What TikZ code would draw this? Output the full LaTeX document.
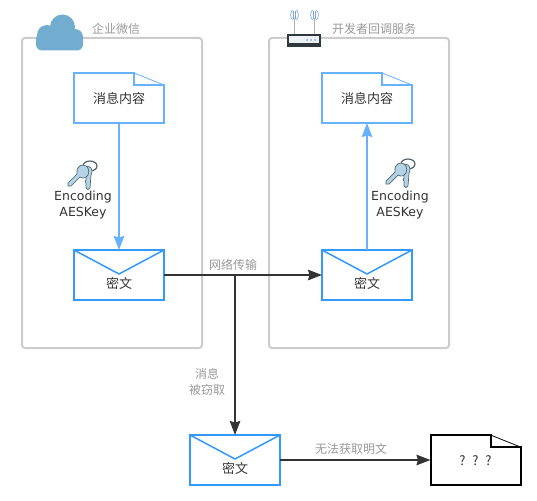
\documentclass[tikz,border=0pt]{standalone}
\usepackage{fontspec}
\setmainfont{Noto Sans CJK SC}
\newfontfamily\latinfont{DejaVu Sans}
\usepackage{xcolor}
\usepackage{tikz}
\usetikzlibrary{arrows.meta, calc}

\definecolor{groupgray}{HTML}{CCCCCC}
\definecolor{docblue}{HTML}{66B2FF}
\definecolor{mailblue}{HTML}{3399FF}
\definecolor{wiredark}{HTML}{333333}
\definecolor{notegray}{HTML}{999999}
\definecolor{cloudblue}{HTML}{72ACCE}
\definecolor{keyblue}{HTML}{B5D3E6}
\definecolor{keyedge}{HTML}{4F6570}
\definecolor{routerdark}{HTML}{2E383D}
\definecolor{routerlight}{HTML}{EEF1F6}
\definecolor{signalblue}{HTML}{7FA6E0}

\tikzset{
	groupbox/.style={draw=groupgray, line width=2pt, rounded corners=3pt, minimum width=180pt, minimum height=310pt, outer sep=0pt},
	docbox/.style={fill=white, minimum width=90pt, minimum height=50pt, outer sep=0pt},
	mailbox/.style={draw=mailblue, fill=white, line width=2pt, minimum width=90pt, minimum height=50pt, outer sep=0pt},
	bodytext/.style={text=wiredark, font=\fontsize{13}{15}\selectfont, inner sep=0pt},
	notetext/.style={text=notegray, font=\fontsize{12}{16}\selectfont, inner sep=0pt, align=center},
	keytext/.style={text=wiredark, font=\latinfont\fontsize{12.5}{16}\selectfont, inner sep=0pt, align=center},
	bluewire/.style={draw=docblue, line width=1.8pt, -{Stealth[length=14pt,width=10.5pt,inset=1.5pt]}},
	darkwire/.style={draw=wiredark, line width=1.8pt, -{Stealth[length=14pt,width=10.5pt,inset=1.5pt]}},
	keyring/.pic={
		\draw[draw=keyedge, line width=1.2pt] (7,-8) ellipse (7 and 5);
		\draw[draw=keyedge, fill=keyblue, line width=.7pt]
			(1,-7) .. controls (7,-10) and (11,-5) .. (8,1) -- (7,14) -- (5,15.5) -- (3,14) -- (3,9) -- (2,8) -- (3,6) -- (3,1) -- cycle;
		\draw[draw=keyedge, fill=keyblue, line width=.7pt]
			(0,-9) .. controls (5,-9) and (7,-3) .. (5,1) .. controls (3,4) and (0,5) .. (-3,3) -- (-12,12) -- (-15,12) -- (-15,9) -- (-6,0) .. controls (-7,-5) and (-4,-9) .. (0,-9);
	},
}

\begin{document}
\begin{tikzpicture}[x=1pt, y=-1pt]
	\useasboundingbox (0,0) rectangle (537,500);

	\node[groupbox] (wecom) at (112,193) {};
	\node[groupbox] (devserver) at (359,193) {};

	\node[notetext] (wecomtitle) at (116,28.5) {企业微信};
	\node[notetext] (devtitle) at (374,28.5) {开发者回调服务};

	\foreach \name/\x/\y/\colr/\txt in {
		plainleft/119/98/docblue/消息内容,
		plainright/367/98/docblue/消息内容,
		unknown/475.5/460/black/{? \ ? \ ?}
	}{
		\node[docbox] (\name) at (\x,\y) {};
		\draw[draw=\colr, line width=2pt] ($(\name.north east)+(-30,0)$) -- (\name.north west) -- (\name.south west) -- (\name.south east) -- ($(\name.north east)+(0,12)$) -- ($(\name.north east)+(-30,12)$) -- cycle;
		\fill[white] ($(\name.north east)+(-29,-1)$) -- ($(\name.north east)+(1,-1)$) -- ($(\name.north east)+(1,11)$) -- cycle;
		\draw[draw=\colr, line width=.8pt] ($(\name.north east)+(-30,0)$) -- ($(\name.north east)+(0,12)$);
		\node[bodytext] (\name text) at ($(\name)+(0,1)$) {\txt};
	}

	\foreach \name/\x/\y in {
		mailleft/119/275,
		mailright/367/275,
		mailstolen/235/460
	}{
		\node[mailbox] (\name) at (\x,\y) {};
		\draw[draw=mailblue, line width=1.5pt] (\name.north west) -- ($(\name.center)+(0,-1)$) -- (\name.north east);
		\node[bodytext] (\name text) at ($(\name.center)+(0,8.5)$) {密文};
	}

	\coordinate (tap) at (mailleft.east -| mailstolen.north);
	\draw[bluewire] (plainleft) -- (mailleft);
	\draw[bluewire] (mailright) -- (plainright);
	\draw[darkwire] (mailleft) -- (mailright);
	\draw[darkwire] (tap) -- (mailstolen);
	\draw[darkwire] (mailstolen) -- (unknown);

	\node[notetext] (nettext) at (233,264.5) {网络传输};
	\node[notetext] (stolentext) at (207,381.5) {消息\\被窃取};
	\node[notetext] (failtext) at (351,448.5) {无法获取明文};

	\node[keytext] (aesleft) at (83,205.5) {Encoding\\AESKey};
	\node[keytext] (aesright) at (400,205.5) {Encoding\\AESKey};
	\pic at (83,174) {keyring};
	\pic at (401,172) {keyring};

	\fill[cloudblue, rounded corners=6pt] (36,33) rectangle (83,50.5);
	\fill[cloudblue] (47,35) circle (10) (62.5,27) circle (12.5) (75,37) circle (8);

	\fill[routerdark] (287,34) rectangle (321,47);
	\fill[routerlight] (289,36.5) rectangle (319,43);
	\foreach \x in {294.5,314.5}{
		\draw[draw=black!30, line width=.8pt] (\x,34) -- (\x,18);
		\draw[draw=signalblue, line width=.7pt] (\x-2,10) .. controls (\x-4.5,13) and (\x-4.5,17) .. (\x-2,20);
		\draw[draw=signalblue, line width=.7pt] (\x+2,10) .. controls (\x+4.5,13) and (\x+4.5,17) .. (\x+2,20);
		\draw[draw=signalblue, line width=.7pt] (\x-1,11) -- (\x-1,19) (\x+1,11) -- (\x+1,19);
	}
	\foreach \x in {307,311,315}{
		\fill[signalblue] (\x,40) circle (1);
	}
\end{tikzpicture}
\end{document}
